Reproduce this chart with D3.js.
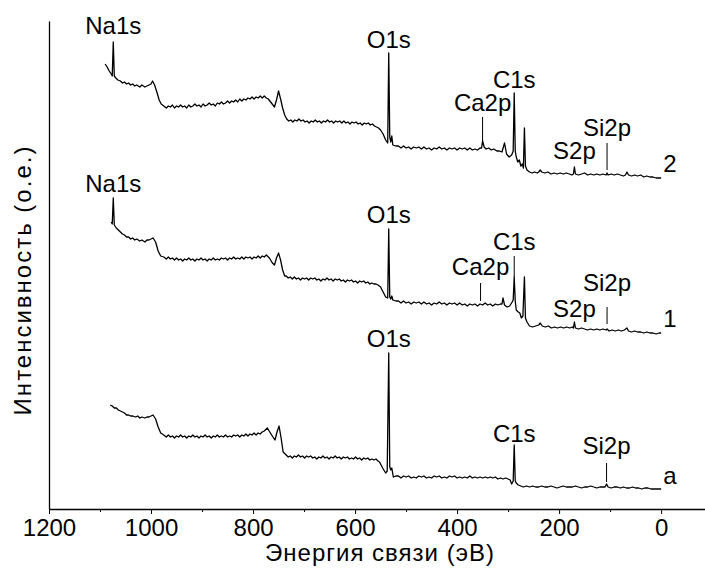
<!DOCTYPE html>
<html>
<head>
<meta charset="utf-8">
<script src="https://cdn.jsdelivr.net/npm/d3@7"></script>
<style>
  html, body { margin: 0; padding: 0; background: #fff; }
  svg { display: block; }
  text { font-family: "Liberation Sans", Arial, sans-serif; fill: #000; }
</style>
</head>
<body>
<svg id="chart" width="705" height="572"></svg>
<script>
// ---- Data: [binding energy (eV), intensity (a.u., includes stacking offset)] ----
const majorTicks = [1200, 1000, 800, 600, 400, 200, 0];
const minorTicks = [1100, 900, 700, 500, 300, 100];
const xTitle = "Энергия связи (эВ)";
const yTitle = "Интенсивность (о.е.)";

const spectrum2 = [
[1090,445],[1086,442],[1082,438],[1078,435],[1076,433],[1074,467],[1072,433],[1069,431],[1065,429],[1060,428],[1056,426],[1052,427],[1048,425],[1044,426],[1040,424],[1036,425],[1032,423],[1028,424],[1022,422],[1018,424],[1012,422],[1008,423],[1004,424],[1000,425],[997,428],[993,424],[988,416],[984,409],[980,405],
[975,403],[970,401],[966,403],[962,402],[958,404],[954,401],[950,403],[946,402],[942,404],[938,402],[934,403],[930,401],[926,404],[922,402],[918,403],[914,405],[910,403],[906,404],[902,402],[898,405],[894,403],[890,404],[886,406],[882,404],[878,405],[874,403],[870,406],[866,405],[862,407],[858,405],[854,406],[850,408],[846,406],[842,408],[838,407],[834,409],[830,407],[826,410],[822,408],[818,410],[814,409],[810,411],[806,410],[802,412],[798,410],[794,412],[790,411],[786,413],[782,411],[778,413],[774,411],
[770,410],[764,406],[758,402],[754,409],[750,418],[746,410],[742,401],[738,394],
[734,390],[730,388],[726,389],[722,387],[718,389],[714,388],[710,390],[706,388],[702,389],[698,387],[694,388],[690,386],[686,388],[682,387],[678,389],[674,387],[670,388],[666,386],[662,388],[658,387],[654,389],[650,387],[646,388],[642,386],[638,388],[634,387],[630,388],[626,386],[622,388],[618,386],[614,387],[610,385],[606,387],[602,386],[598,387],[594,385],[590,386],[586,384],[582,386],[578,385],[574,386],[570,384],[566,385],[562,383],[558,382],
[554,381],[550,379],[545,375],[540,369],[536,366],[534,456],[532,372],[530,367],[528,373],[526,364],[520,363],
[515,363],[510,361],[505,363],[500,361],[495,362],[490,360],[485,362],[480,361],[475,362],[470,360],[465,362],[460,360],[455,361],[450,359],[445,361],[440,360],[435,362],[430,360],[425,361],[420,359],[415,361],[410,360],[405,361],[400,359],[395,361],[390,360],[385,361],[380,359],[375,361],[370,359],[365,360],[360,359],[355,361],
[352,361],[350,368],[347,362],[343,360],[338,361],[333,359],[328,360],[322,358],[317,358],[312,357],[307,366],[303,355],[298,352],[293,354],[290,358],[288,416],[286,358],[284,352],[281,347],[278,349],[275,343],[272,345],[270,341],[268,381],[266,343],[263,339],[258,337],[253,336],[248,337],[243,336],[240,337],[237,339],[234,337],[228,336],[222,337],[216,335],[210,336],[204,335],[198,336],[192,335],[186,336],[180,335],[175,334],[172,335],[170,342],[168,335],[162,334],[156,335],[150,336],[144,334],[138,335],[132,334],[126,335],[120,334],[114,335],[108,334],[106,336],[104,334],[98,335],[92,334],[86,335],[80,334],[74,333],[70,334],[67,337],[64,334],[58,333],[52,334],[46,333],[40,334],[34,332],[28,333],[22,332],[16,332],[10,331],[4,331],[0,331]
];

const spectrum1 = [
[1078,287],[1076,285],[1074,311],[1072,284],[1068,281],[1064,279],[1060,277],[1056,275],[1052,274],[1048,272],[1044,272],[1040,270],[1036,271],[1032,269],[1028,270],[1022,268],[1018,269],[1012,267],[1008,269],[1004,269],[1000,270],[996,271],[991,267],[986,258],[981,253],
[975,252],[970,250],[966,252],[962,250],[958,251],[954,249],[950,251],[946,249],[942,250],[938,248],[934,250],[930,249],[926,251],[922,249],[918,250],[914,248],[910,250],[906,249],[902,251],[898,249],[894,250],[890,248],[886,250],[882,249],[878,251],[874,249],[870,250],[866,249],[862,251],[858,250],[854,251],[850,249],[846,251],[842,250],[838,252],[834,250],[830,251],[826,250],[822,252],[818,250],[814,252],[810,251],[806,252],[802,250],[798,252],[794,251],[790,253],[786,251],[782,253],[778,252],[774,254],
[768,251],[762,246],[758,244],[754,251],[750,256],[746,249],[742,239],[738,233],
[735,233],[731,231],[727,232],[723,230],[719,232],[715,230],[711,231],[707,229],[703,231],[699,230],[695,231],[691,229],[687,231],[683,230],[679,231],[675,229],[671,230],[667,228],[663,230],[659,229],[655,231],[651,229],[647,230],[643,228],[639,230],[635,229],[631,230],[627,228],[623,229],[619,227],[615,229],[611,228],[607,229],[603,227],[599,228],[595,226],[591,228],[587,227],[583,228],[579,226],[575,227],[571,225],[567,226],[563,225],[559,225],
[555,224],[550,222],[545,217],[540,212],[536,211],[534,280],[532,212],[530,210],[528,213],[526,209],[520,208],
[515,208],[510,206],[505,208],[500,206],[495,207],[490,205],[485,207],[480,206],[475,207],[470,205],[465,207],[460,205],[455,206],[450,204],[445,206],[440,205],[435,207],[430,205],[425,206],[420,204],[415,206],[410,205],[405,206],[400,204],[395,206],[390,204],[385,205],[380,203],[375,205],[370,204],[365,205],[360,203],[355,205],[350,204],[345,206],[340,204],[335,205],[330,203],[325,205],[320,204],[315,205],
[312,205],[310,211],[307,204],[302,202],[297,203],[292,207],[290,209],[288,232],[286,208],[284,199],[280,197],[277,196],[274,191],[271,193],[268,232],[266,191],[263,187],[258,183],[252,182],[246,183],[240,184],[237,186],[233,183],[227,182],[221,183],[215,181],[209,182],[203,181],[197,182],[191,181],[185,182],[179,181],[174,182],[172,181],[170,187],[168,181],[162,180],[156,181],[150,180],[144,179],[138,180],[132,179],[126,180],[120,179],[114,180],[108,179],[106,180],[102,178],[96,179],[90,178],[84,179],[78,178],[72,179],[67,181],[64,178],[58,177],[52,178],[46,177],[40,177],[34,176],[28,177],[22,176],[16,176],[10,175],[4,176],[0,176]
];

const spectrumA = [
[1080,104],[1076,103],[1072,101],[1068,101],[1064,99],[1060,98],[1056,97],[1052,96],[1048,94],[1044,94],[1040,93],[1036,93],[1030,92],[1026,93],[1022,91],[1018,92],[1012,91],[1008,92],[1004,92],[1000,93],[996,94],[991,90],[986,82],[981,76],
[975,74],[970,72],[966,74],[962,72],[958,73],[954,71],[950,73],[946,72],[942,74],[938,72],[934,73],[930,71],[926,73],[922,72],[918,74],[914,72],[910,73],[906,71],[902,73],[898,72],[894,74],[890,72],[886,73],[882,71],[878,73],[874,72],[870,74],[866,72],[862,73],[858,72],[854,74],[850,72],[846,73],[842,72],[838,74],[834,73],[830,74],[826,72],[822,74],[818,73],[814,75],[810,73],[806,75],[802,74],[798,76],[794,74],[790,76],[786,75],[782,77],[778,78],
[772,81],[766,76],[761,72],[757,69],[753,77],[749,83],[745,71],[741,57],
[735,54],[731,52],[727,53],[723,51],[719,53],[715,52],[711,54],[707,52],[703,53],[699,51],[695,53],[691,52],[687,53],[683,51],[679,52],[675,50],[671,52],[667,51],[663,53],[659,51],[655,52],[651,50],[647,52],[643,51],[639,53],[635,51],[631,52],[627,50],[623,52],[619,51],[615,52],[611,50],[607,51],[603,50],[599,52],[595,50],[591,51],[587,49],[583,51],[579,50],[575,51],[571,49],[567,50],[563,49],[559,50],
[555,48],[552,47],[546,41],[540,36],[537,38],[534,156],[532,42],[530,39],[528,41],[525,32],[520,33],
[515,33],[510,31],[505,33],[500,32],[495,33],[490,31],[485,32],[480,31],[475,33],[470,32],[465,33],[460,31],[455,32],[450,31],[445,33],[440,32],[435,33],[430,31],[425,32],[420,31],[415,33],[410,32],[405,33],[400,31],[395,32],[390,31],[385,32],[380,31],[375,33],[370,31],[365,32],[360,31],[355,32],[350,31],[345,32],[340,31],[335,32],[330,31],[325,32],[320,30],[315,31],[310,30],[305,31],
[300,30],[296,29],[293,25],[290,28],[288,64],[286,28],[284,26],[280,24],[275,23],[270,22],[264,23],[258,22],[252,23],[246,22],[240,22],[234,23],[228,22],[222,22],[216,23],[210,22],[204,21],[198,22],[192,23],[186,22],[180,22],[174,22],[168,23],[162,22],[156,21],[150,22],[144,22],[138,23],[132,22],[126,21],[120,22],[114,22],[110,22],[107,25],[104,22],[98,21],[92,22],[86,22],[80,21],[74,22],[68,21],[62,21],[56,22],[50,21],[44,21],[38,20],[32,21],[26,21],[20,20],[14,20],[8,20],[0,20]
];

// Peak annotations
const peakLabels = ["Na1s","O1s","Ca2p","C1s","S2p","Si2p","Na1s","O1s","Ca2p","C1s","S2p","Si2p","O1s","C1s","Si2p"];
const peakEnergy = [1074,534,350,288,170,106,1074,534,354,288,170,106,534,288,107];
const peakTextY  = [475,461,398,421,350,373,317,286,234,259,192,218,162,67,55];
const markTop    = [null,null,392,null,null,366,null,null,226,253,null,202,null,null,46];
const markBottom = [null,null,368,null,null,339,null,null,208,232,null,185,null,null,27];

// Curve names at the right end
const curveNames = ["2","1","a"];
const curveNameE = [-4,-4,-4];
const curveNameY = [337,182,25];

// ---- Chart ----
const svg = d3.select("#chart");
const x = d3.scaleLinear().domain([1200, -86]).range([49, 705]);
const y = d3.scaleLinear().domain([0, 488]).range([509, 21]);
const FS = 24;

const line = d3.line().x(d => x(d[0])).y(d => y(d[1]));
[spectrum2, spectrum1, spectrumA].forEach(s => {
  const pts = d3.sort(s, (a, b) => d3.descending(a[0], b[0]));
  svg.append("path").datum(pts)
    .attr("d", line)
    .attr("fill", "none")
    .attr("stroke", "#000")
    .attr("stroke-width", 1.3)
    .attr("stroke-linejoin", "round");
});

peakLabels.forEach((lab, i) => {
  if (markTop[i] !== null) {
    svg.append("line")
      .attr("x1", x(peakEnergy[i])).attr("x2", x(peakEnergy[i]))
      .attr("y1", y(markTop[i])).attr("y2", y(markBottom[i]))
      .attr("stroke", "#000").attr("stroke-width", 1);
  }
  svg.append("text")
    .attr("x", x(peakEnergy[i]))
    .attr("y", y(peakTextY[i]))
    .attr("text-anchor", "middle")
    .attr("font-size", FS)
    .text(lab);
});

curveNames.forEach((n, i) => {
  svg.append("text")
    .attr("x", x(curveNameE[i]))
    .attr("y", y(curveNameY[i]))
    .attr("font-size", FS)
    .text(n);
});

// axes
const gx = svg.append("g").attr("transform", `translate(0,${y(0)})`)
  .call(d3.axisBottom(x).tickValues(majorTicks).tickFormat(d3.format("d"))
    .tickSize(5).tickPadding(5).tickSizeOuter(0));
gx.selectAll("text").attr("font-size", FS).attr("font-family", "Liberation Sans, Arial, sans-serif");
gx.select(".domain").attr("stroke-width", 1.3);

const gxm = svg.append("g").attr("transform", `translate(0,${y(0)})`)
  .call(d3.axisBottom(x).tickValues(minorTicks).tickFormat("").tickSize(3).tickSizeOuter(0));
gxm.select(".domain").remove();

const gy = svg.append("g").attr("transform", `translate(${x(1200)},0)`)
  .call(d3.axisLeft(y).tickValues([]).tickSizeOuter(0));
gy.select(".domain").attr("stroke-width", 1.3);

svg.append("text")
  .attr("x", 380).attr("y", 561)
  .attr("text-anchor", "middle")
  .attr("font-size", FS)
  .attr("letter-spacing", 1)
  .text(xTitle);

svg.append("text")
  .attr("transform", "translate(31,280) rotate(-90)")
  .attr("text-anchor", "middle")
  .attr("font-size", FS)
  .attr("letter-spacing", 2)
  .text(yTitle);
</script>
</body>
</html>
